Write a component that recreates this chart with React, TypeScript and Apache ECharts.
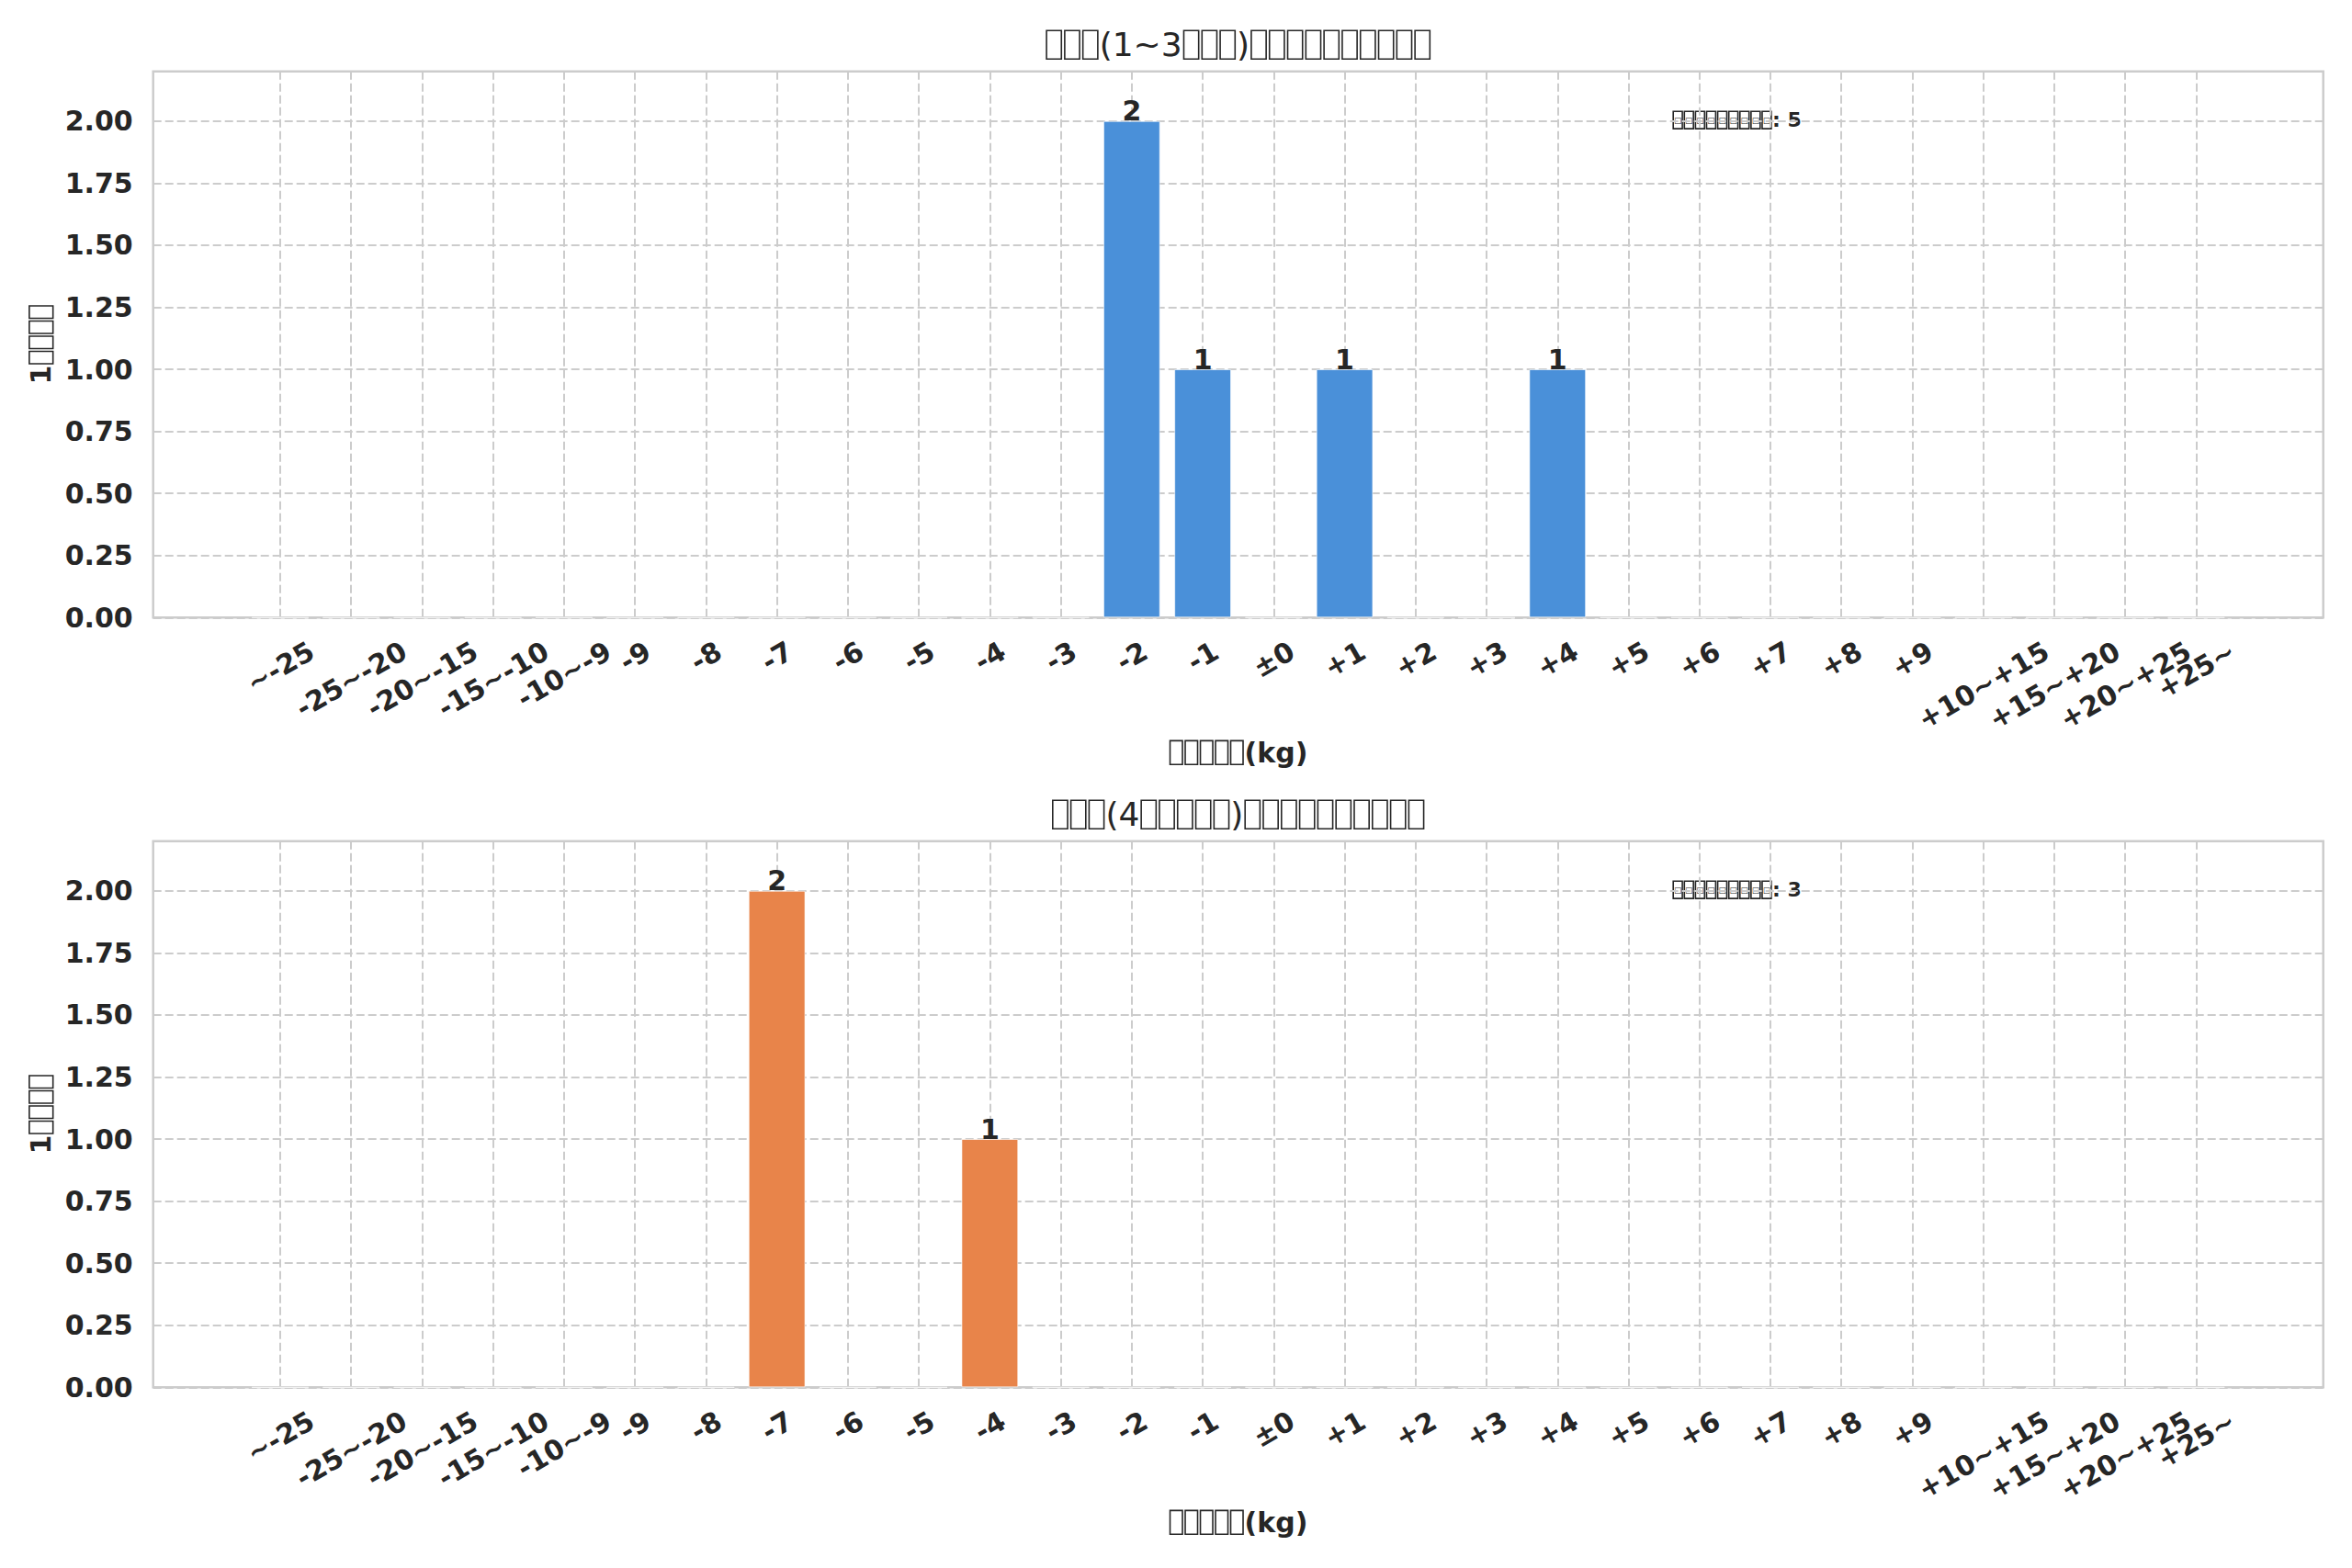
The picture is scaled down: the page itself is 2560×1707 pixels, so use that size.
import React, { useEffect, useRef } from "react";
import * as echarts from "echarts";

const categories = [
  "~-25", "-25~-20", "-20~-15", "-15~-10", "-10~-9",
  "-9", "-8", "-7", "-6", "-5", "-4", "-3", "-2", "-1",
  "±0",
  "+1", "+2", "+3", "+4", "+5", "+6", "+7", "+8", "+9",
  "+10~+15", "+15~+20", "+20~+25", "+25~",
];
const shortTermCounts = [
  0, 0, 0, 0, 0,
  0, 0, 0, 0, 0, 0, 0, 2, 1,
  0,
  1, 0, 0, 1, 0, 0, 0, 0, 0,
  0, 0, 0, 0,
];
const longTermCounts = [
  0, 0, 0, 0, 0,
  0, 0, 2, 0, 0, 1, 0, 0, 0,
  0,
  0, 0, 0, 0, 0, 0, 0, 0, 0,
  0, 0, 0, 0,
];
const titles = ["□□□(1~3□□□)□□□□□□□□□□", "□□□(4□□□□□)□□□□□□□□□□"];
const xAxisName = "□□□□□(kg)";
const yAxisName = "1□□□□";
const totalLabel = "□□□□□□□□□";
const barColors = ["#4a90d9", "#e8844a"];
const yMax = 2.2;
const yInterval = 0.25;

const W = 2560;
const H = 1707;
const FONT = '"DejaVu Sans", sans-serif';
const TEXT = "#262626";
const GRIDC = "#cccccc";
const plotLeft = 166.7;
const plotWidth = 2362;
const plotHeight = 594.6;
const plotTops = [77.7, 915.7];
const xMin = -1.79;
const xMax = 28.79;
const TICK_FS = 30;

// Missing-glyph boxes are drawn as bordered rich-text tokens
function toRich(s: string): string {
  let out = "";
  let run = "";
  for (const ch of Array.from(s)) {
    if (ch === "□") {
      if (run) { out += `{n|${run}}`; run = ""; }
      out += "{g| }{b|□}{g| }";
    } else {
      run += ch;
    }
  }
  if (run) out += `{n|${run}}`;
  return out;
}
function makeRich(F: number, weight: string) {
  return {
    n: { fontSize: F, fontWeight: weight, fontFamily: FONT, color: TEXT },
    b: {
      width: 0.45 * F,
      height: 0.86 * F,
      borderColor: TEXT,
      borderWidth: 1.6,
      color: "transparent",
      fontSize: 0.4 * F,
      fontFamily: FONT,
      align: "center",
    },
    g: { width: 0.05 * F, fontSize: F, fontFamily: FONT, color: "transparent" },
  };
}

export default function App() {
  const ref = useRef<HTMLDivElement>(null);
  useEffect(() => {
    document.body.style.margin = "0";
    if (!ref.current) return;
    const chart = echarts.init(ref.current, null, { renderer: "svg", width: W, height: H });

    const canvas = document.createElement("canvas");
    const ctx = canvas.getContext("2d")!;
    ctx.font = `bold ${TICK_FS}px ${FONT}`;
    const rich: Record<string, any> = {};
    categories.forEach((c, i) => {
      const w = ctx.measureText(c).width;
      const dy = w / 4;
      rich["t" + i] = {
        fontSize: TICK_FS,
        fontWeight: "bold",
        fontFamily: FONT,
        color: TEXT,
        padding: [1.732 * dy, dy, 0, 0],
      };
    });

    const unit = plotWidth / (xMax - xMin);
    const barWidth = unit * 0.8;
    const tickVals = categories.map((_, i) => i);
    // empty guard labels at both ends keep every real label visible
    const labelVals = [-0.6, ...tickVals, categories.length - 0.4];
    const allCounts = [shortTermCounts, longTermCounts];

    const option: any = {
      animation: false,
      backgroundColor: "#ffffff",
      title: titles.map((t, k) => ({
        text: toRich(t),
        left: plotLeft + plotWidth / 2,
        top: plotTops[k] - 47,
        textAlign: "center",
        padding: 0,
        textStyle: {
          fontSize: 36, fontWeight: "normal", fontFamily: FONT, color: TEXT,
          rich: makeRich(36, "normal"),
        },
      })),
      grid: plotTops.map((top) => ({
        left: plotLeft,
        top,
        width: plotWidth,
        height: plotHeight,
        show: true,
        borderColor: GRIDC,
        borderWidth: 2.5,
        backgroundColor: "transparent",
        containLabel: false,
      })),
      xAxis: plotTops.map((_, k) => ({
        type: "value",
        gridIndex: k,
        min: xMin,
        max: xMax,
        name: toRich(xAxisName),
        nameLocation: "middle",
        nameGap: 132,
        nameTextStyle: {
          fontSize: 30, fontWeight: "bold", fontFamily: FONT, color: TEXT,
          rich: makeRich(30, "bold"),
        },
        axisLine: { show: false },
        axisTick: { show: false, customValues: tickVals },
        splitLine: { show: true, lineStyle: { color: GRIDC, width: 2, type: [9, 4] } },
        axisLabel: {
          customValues: labelVals,
          hideOverlap: false,
          rotate: 30,
          align: "center",
          verticalAlign: "middle",
          margin: 34,
          fontSize: TICK_FS,
          fontWeight: "bold",
          fontFamily: FONT,
          color: TEXT,
          formatter: (v: number) => {
            const i = Math.round(v);
            if (Math.abs(v - i) > 1e-6 || i < 0 || i >= categories.length) return "";
            return `{t${i}|${categories[i]}}`;
          },
          rich,
        },
      })),
      yAxis: plotTops.map((_, k) => ({
        type: "value",
        gridIndex: k,
        min: 0,
        max: yMax,
        interval: yInterval,
        name: toRich(yAxisName),
        nameLocation: "middle",
        nameRotate: 90,
        nameGap: 100,
        nameTextStyle: {
          fontSize: 30, fontWeight: "bold", fontFamily: FONT, color: TEXT,
          rich: makeRich(30, "bold"),
        },
        axisLine: { show: false },
        axisTick: { show: false },
        splitLine: { show: true, lineStyle: { color: GRIDC, width: 2, type: [9, 4] } },
        axisLabel: {
          showMaxLabel: false,
          margin: 22,
          fontSize: TICK_FS,
          fontWeight: "bold",
          fontFamily: FONT,
          color: TEXT,
          formatter: (v: number) => v.toFixed(2),
        },
      })),
      series: allCounts.map((counts, k) => ({
        type: "bar",
        xAxisIndex: k,
        yAxisIndex: k,
        barWidth,
        data: counts.map((v, i) => [i, v]),
        itemStyle: { color: barColors[k], borderColor: "rgba(255,255,255,0.6)", borderWidth: 1 },
        label: {
          show: true,
          position: "top",
          distance: -4,
          fontSize: 30,
          fontWeight: "bold",
          fontFamily: FONT,
          color: TEXT,
          formatter: (p: any) => (p.value[1] > 0 ? String(p.value[1]) : ""),
        },
      })),
      graphic: allCounts.map((counts, k) => ({
        type: "text",
        x: plotLeft + 0.7 * plotWidth,
        y: plotTops[k] + 53,
        style: {
          text: toRich(totalLabel) + `{n|: ${counts.reduce((a, b) => a + b, 0)}}`,
          font: `bold 22px ${FONT}`,
          fill: TEXT,
          verticalAlign: "middle",
          align: "left",
          rich: makeRich(22, "bold"),
        },
      })),
    };
    chart.setOption(option);
    return () => chart.dispose();
  }, []);
  return <div ref={ref} style={{ width: W, height: H }} />;
}
